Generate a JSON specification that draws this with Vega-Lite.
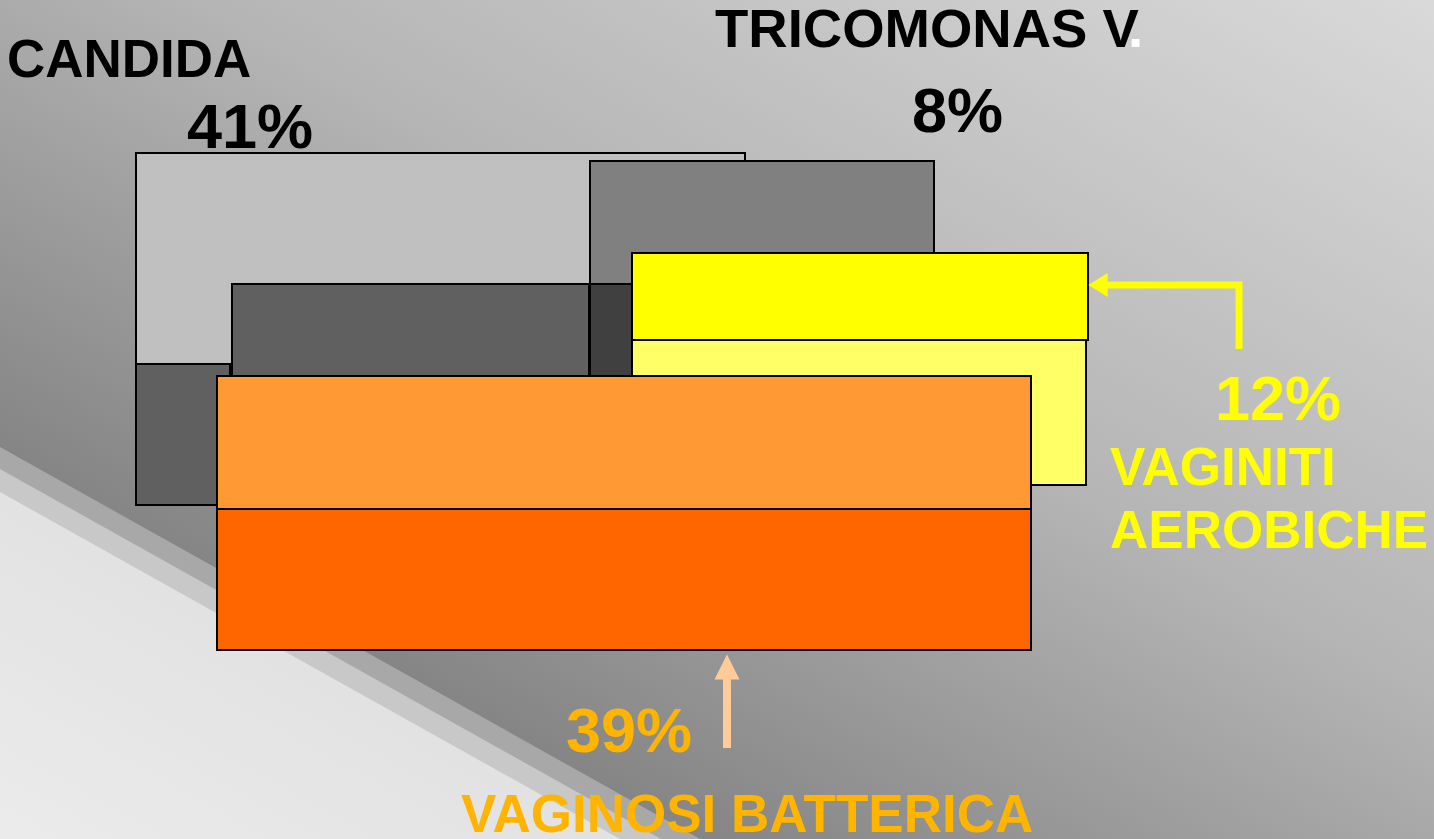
{
  "$schema": "https://vega.github.io/schema/vega-lite/v6.json",
  "width": 1434,
  "height": 839,
  "padding": 0,
  "autosize": {"type": "none"},
  "config": {"view": {"stroke": null}},
  "datasets": {
    "bg": [{"x": 0, "x2": 1434, "y": 0, "y2": 839}],
    "band1": [{"x": 0, "y": 447, "y2": 839}, {"x": 700, "y": 839, "y2": 839}],
    "band2": [{"x": 0, "y": 469, "y2": 839}, {"x": 661, "y": 839, "y2": 839}],
    "band3": [{"x": 0, "y": 492, "y2": 839}, {"x": 620, "y": 839, "y2": 839}],
    "boxes": [
      {"part": "light", "x": 136, "x2": 745, "y": 153, "y2": 364},
      {"part": "dark", "x": 136, "x2": 230, "y": 364, "y2": 505},
      {"part": "mid", "x": 590, "x2": 934, "y": 161, "y2": 376},
      {"part": "dark", "x": 232, "x2": 589, "y": 284, "y2": 376},
      {"part": "darkest", "x": 590, "x2": 632, "y": 284, "y2": 376},
      {"part": "paleyellow", "x": 632, "x2": 1086, "y": 340, "y2": 485},
      {"part": "yellow", "x": 632, "x2": 1088, "y": 253, "y2": 340},
      {"part": "orange", "x": 217, "x2": 1031, "y": 376, "y2": 509},
      {"part": "deeporange", "x": 217, "x2": 1031, "y": 509, "y2": 650}
    ],
    "yellowArrow": [{"k": 1, "x": 1104, "y": 285}, {"k": 2, "x": 1239, "y": 285}, {"k": 3, "x": 1239, "y": 349}],
    "yellowHead": [{"x": 1098, "y": 285}],
    "peachArrow": [{"k": 1, "x": 727, "y": 676}, {"k": 2, "x": 727, "y": 748}],
    "peachHead": [{"x": 727, "y": 667}],
    "labels": [
      {"label": "CANDIDA", "x": 7, "y": 77, "tone": "black", "kind": "name"},
      {"label": "41%", "x": 187, "y": 148, "tone": "black", "kind": "pct"},
      {"label": "TRICOMONAS V", "x": 715, "y": 47, "tone": "black", "kind": "title"},
      {"label": ".", "x": 1128, "y": 47, "tone": "white", "kind": "title"},
      {"label": "8%", "x": 912, "y": 132, "tone": "black", "kind": "pct"},
      {"label": "12%", "x": 1215, "y": 420, "tone": "yellow", "kind": "pct"},
      {"label": "VAGINITI", "x": 1110, "y": 485, "tone": "yellow", "kind": "name"},
      {"label": "AEROBICHE", "x": 1110, "y": 548, "tone": "yellow", "kind": "name"},
      {"label": "39%", "x": 566, "y": 752, "tone": "gold", "kind": "pct"},
      {"label": "VAGINOSI BATTERICA", "x": 461, "y": 832, "tone": "gold", "kind": "name"}
    ]
  },
  "layer": [
    {
      "data": {"name": "bg"},
      "mark": {"type": "rect", "fill": {"gradient": "linear", "x1": 1, "y1": 0, "x2": 0.255, "y2": 0.778, "stops": [{"offset": 0, "color": "#d9d9d9"}, {"offset": 0.55, "color": "#b5b5b5"}, {"offset": 1, "color": "#858585"}]}},
      "encoding": {
        "x": {"field": "x", "type": "quantitative", "scale": {"domain": [0, 1434], "nice": false, "zero": false}, "axis": null},
        "x2": {"field": "x2"},
        "y": {"field": "y", "type": "quantitative", "scale": {"domain": [0, 839], "reverse": true, "nice": false, "zero": false}, "axis": null},
        "y2": {"field": "y2"}
      }
    },
    {
      "data": {"name": "band1"},
      "mark": {"type": "area", "color": "#a8a8a8", "interpolate": "linear"},
      "encoding": {
        "x": {"field": "x", "type": "quantitative", "axis": null},
        "y": {"field": "y", "type": "quantitative", "axis": null, "stack": null},
        "y2": {"field": "y2"}
      }
    },
    {
      "data": {"name": "band2"},
      "mark": {"type": "area", "color": "#c8c8c8", "interpolate": "linear"},
      "encoding": {
        "x": {"field": "x", "type": "quantitative", "axis": null},
        "y": {"field": "y", "type": "quantitative", "axis": null, "stack": null},
        "y2": {"field": "y2"}
      }
    },
    {
      "data": {"name": "band3"},
      "mark": {"type": "area", "interpolate": "linear", "color": {"gradient": "linear", "x1": 1, "y1": 0, "x2": 0, "y2": 1, "stops": [{"offset": 0, "color": "#d9d9d9"}, {"offset": 1, "color": "#ebebeb"}]}},
      "encoding": {
        "x": {"field": "x", "type": "quantitative", "axis": null},
        "y": {"field": "y", "type": "quantitative", "axis": null, "stack": null},
        "y2": {"field": "y2"}
      }
    },
    {
      "data": {"name": "boxes"},
      "mark": {"type": "rect", "stroke": "#000000", "strokeWidth": 2},
      "encoding": {
        "x": {"field": "x", "type": "quantitative", "axis": null},
        "x2": {"field": "x2"},
        "y": {"field": "y", "type": "quantitative", "axis": null},
        "y2": {"field": "y2"},
        "fill": {"field": "part", "type": "nominal", "legend": null, "scale": {"domain": ["light", "mid", "dark", "darkest", "yellow", "paleyellow", "orange", "deeporange"], "range": ["#c0c0c0", "#808080", "#606060", "#404040", "#ffff00", "#ffff66", "#ff9933", "#ff6600"]}}
      }
    },
    {
      "data": {"name": "yellowArrow"},
      "mark": {"type": "line", "color": "#ffff00", "strokeWidth": 7, "strokeCap": "butt", "strokeJoin": "miter"},
      "encoding": {
        "x": {"field": "x", "type": "quantitative", "axis": null},
        "y": {"field": "y", "type": "quantitative", "axis": null},
        "order": {"field": "k", "type": "quantitative"}
      }
    },
    {
      "data": {"name": "yellowHead"},
      "mark": {"type": "point", "shape": "M-0.8,0L0.8,-1L0.8,1Z", "filled": true, "color": "#ffff00", "opacity": 1, "size": 576},
      "encoding": {
        "x": {"field": "x", "type": "quantitative", "axis": null},
        "y": {"field": "y", "type": "quantitative", "axis": null}
      }
    },
    {
      "data": {"name": "peachArrow"},
      "mark": {"type": "line", "color": "#ffcc99", "strokeWidth": 8, "strokeCap": "butt"},
      "encoding": {
        "x": {"field": "x", "type": "quantitative", "axis": null},
        "y": {"field": "y", "type": "quantitative", "axis": null},
        "order": {"field": "k", "type": "quantitative"}
      }
    },
    {
      "data": {"name": "peachHead"},
      "mark": {"type": "point", "shape": "M0,-1L1,1L-1,1Z", "filled": true, "color": "#ffcc99", "opacity": 1, "size": 625},
      "encoding": {
        "x": {"field": "x", "type": "quantitative", "axis": null},
        "y": {"field": "y", "type": "quantitative", "axis": null}
      }
    },
    {
      "data": {"name": "labels"},
      "transform": [{"filter": "datum.kind === 'name'"}],
      "mark": {"type": "text", "align": "left", "baseline": "alphabetic", "font": "Liberation Sans", "fontWeight": "bold", "fontSize": 53},
      "encoding": {
        "x": {"field": "x", "type": "quantitative", "axis": null},
        "y": {"field": "y", "type": "quantitative", "axis": null},
        "text": {"field": "label"},
        "color": {"field": "tone", "type": "nominal", "legend": null, "scale": {"domain": ["black", "white", "yellow", "gold"], "range": ["#000000", "#ffffff", "#ffff00", "#ffb400"]}}
      }
    },
    {
      "data": {"name": "labels"},
      "transform": [{"filter": "datum.kind === 'title'"}],
      "mark": {"type": "text", "align": "left", "baseline": "alphabetic", "font": "Liberation Sans", "fontWeight": "bold", "fontSize": 54.5},
      "encoding": {
        "x": {"field": "x", "type": "quantitative", "axis": null},
        "y": {"field": "y", "type": "quantitative", "axis": null},
        "text": {"field": "label"},
        "color": {"field": "tone", "type": "nominal", "legend": null, "scale": {"domain": ["black", "white", "yellow", "gold"], "range": ["#000000", "#ffffff", "#ffff00", "#ffb400"]}}
      }
    },
    {
      "data": {"name": "labels"},
      "transform": [{"filter": "datum.kind === 'pct'"}],
      "mark": {"type": "text", "align": "left", "baseline": "alphabetic", "font": "Liberation Sans", "fontWeight": "bold", "fontSize": 63},
      "encoding": {
        "x": {"field": "x", "type": "quantitative", "axis": null},
        "y": {"field": "y", "type": "quantitative", "axis": null},
        "text": {"field": "label"},
        "color": {"field": "tone", "type": "nominal", "legend": null, "scale": {"domain": ["black", "white", "yellow", "gold"], "range": ["#000000", "#ffffff", "#ffff00", "#ffb400"]}}
      }
    }
  ]
}
